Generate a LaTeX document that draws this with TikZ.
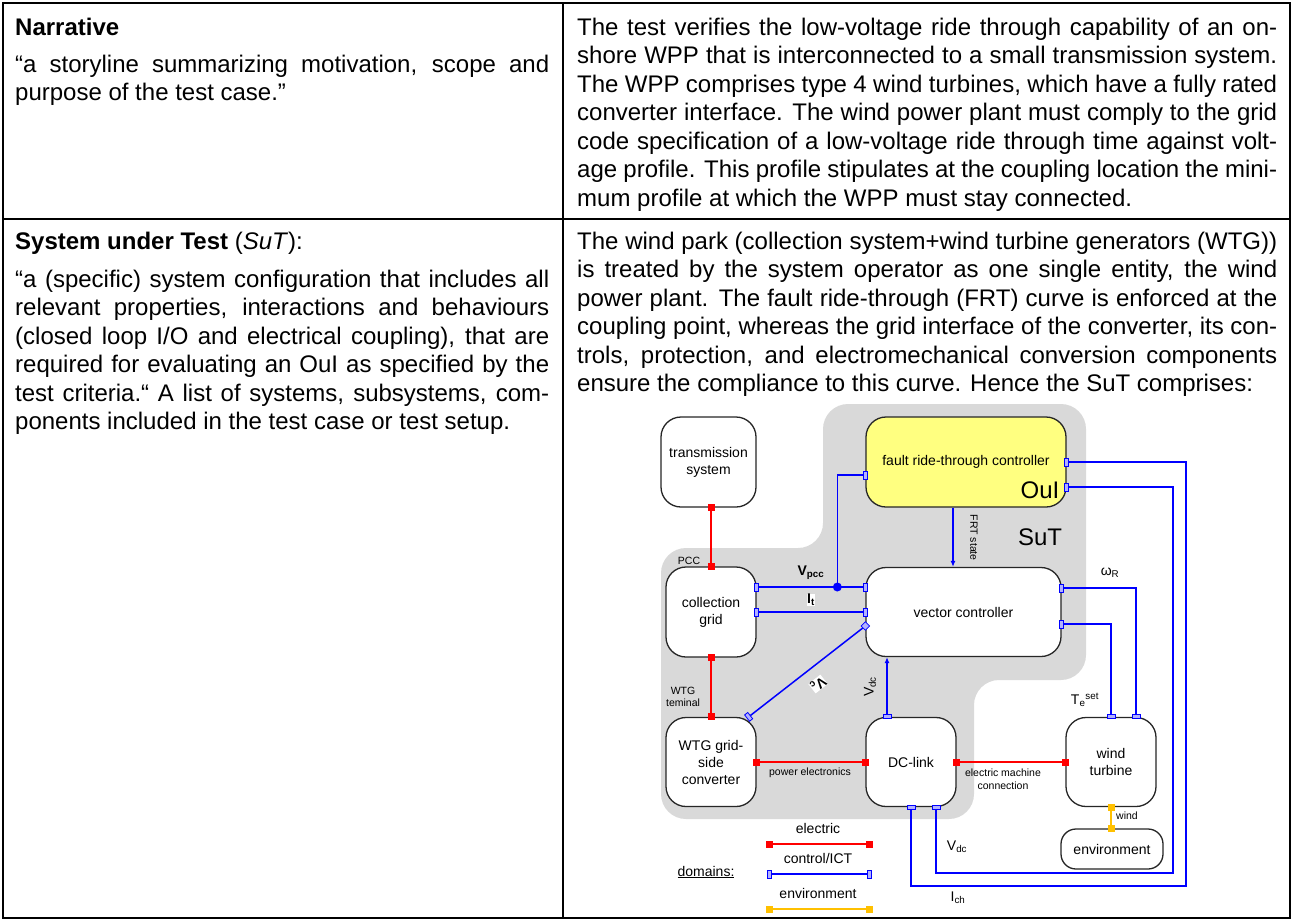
\documentclass[tikz,border=0pt]{standalone}
\usepackage{fontspec}
\setmainfont{Liberation Sans}
\usetikzlibrary{positioning,calc,arrows.meta}

\definecolor{elred}{RGB}{255,0,0}
\definecolor{ictblue}{RGB}{0,0,255}
\definecolor{envorange}{RGB}{255,192,0}
\definecolor{oulyellow}{RGB}{255,255,128}
\definecolor{sutgray}{RGB}{217,217,217}

\newcommand{\bodyfont}{\fontsize{24}{28.5}\selectfont}
\newcommand{\boxfont}{\fontsize{14}{17}\selectfont}
\newcommand{\smallfont}{\fontsize{10.5}{12.5}\selectfont}
\newcommand{\bigfont}{\fontsize{24}{28}\selectfont}

\tikzset{
  block/.style={draw=black!85, line width=1.3pt, fill=white, rounded corners=20pt,
    align=center, inner sep=0pt, font=\boxfont},
  elline/.style={elred, line width=1.6pt},
  ictline/.style={ictblue, line width=1.5pt},
  envline/.style={envorange, line width=2pt},
  elterm/.style={fill=elred, inner sep=0pt, minimum size=7pt},
  envterm/.style={fill=envorange, inner sep=0pt, minimum size=7pt},
  vport/.style={draw=ictblue, fill=ictblue!30, line width=0.8pt, inner sep=0pt,
    minimum width=4pt, minimum height=8pt},
  hport/.style={vport, minimum width=8pt, minimum height=4pt},
  lbl/.style={font=\smallfont, inner sep=0pt, align=center},
  sig/.style={font=\boxfont, inner sep=0.5pt},
  cell/.style={font=\bodyfont, inner sep=0pt, anchor=base west, align=justify,
    execute at begin node={\hyphenpenalty=10000 \exhyphenpenalty=10000 }},
}

\begin{document}
\begin{tikzpicture}[x=1pt,y=-1pt]
\useasboundingbox (0,0) rectangle (1293,921);

% table frame
\draw[line width=2pt] (3,3) rectangle (1290,918);
\draw[line width=2pt] (563,3) -- (563,918);
\draw[line width=2pt] (3,219) -- (1290,219);

% narrative row
\node[cell, text width=534pt] (narhead) at (15,35) {\textbf{Narrative}};
\node[cell, text width=534pt] (narquote) at (15,72) {“a storyline summarizing motivation, scope and\linebreak
purpose of the test case.”};
\node[cell, text width=700pt] (nartext) at (577,35) {The test verifies the low-voltage ride through capability of an on-\linebreak
shore WPP that is interconnected to a small transmission system.\linebreak
The WPP comprises type 4 wind turbines, which have a fully rated\linebreak
converter interface. The wind power plant must comply to the grid\linebreak
code specification of a low-voltage ride through time against volt-\linebreak
age profile. This profile stipulates at the coupling location the mini-\linebreak
mum profile at which the WPP must stay connected.};

% system under test row
\node[cell, text width=534pt] (suthead) at (15,249) {\textbf{System under Test} (\textit{SuT}):};
\node[cell, text width=534pt] (sutquote) at (15,287) {“a (specific) system configuration that includes all\linebreak
relevant properties, interactions and behaviours\linebreak
(closed loop I/O and electrical coupling), that are\linebreak
required for evaluating an OuI as specified by the\linebreak
test criteria.“ A list of systems, subsystems, com-\linebreak
ponents included in the test case or test setup.};
\node[cell, text width=700pt] (suttext) at (577,249) {The wind park (collection system+wind turbine generators (WTG))\linebreak
is treated by the system operator as one single entity, the wind\linebreak
power plant. The fault ride-through (FRT) curve is enforced at the\linebreak
coupling point, whereas the grid interface of the converter, its con-\linebreak
trols, protection, and electromechanical conversion components\linebreak
ensure the compliance to this curve. Hence the SuT comprises:};

% SuT area
\fill[sutgray, rounded corners=25pt] (823,404) -- (1086,404) -- (1086,680) -- (974,680)
  -- (974,819) -- (661,819) -- (661,548) -- (823,548) -- cycle;

% blocks
\node[block, minimum width=95pt, minimum height=90pt] (trans) at (708.5,462) {transmission\\system};
\node[block, minimum width=90pt, minimum height=90pt] (cgrid) at (711,612) {collection\\grid};
\node[block, minimum width=90pt, minimum height=89pt] (wtgc) at (711,762) {WTG grid-\\side\\converter};
\node[block, minimum width=90pt, minimum height=89pt] (dclink) at (911,762) {DC-link};
\node[block, minimum width=90pt, minimum height=89pt] (wturb) at (1111,762) {wind\\turbine};
\node[block, fill=oulyellow, minimum width=200pt, minimum height=90pt] (frtc) at (966,462) {fault ride-through controller};
\node[block, minimum width=195pt, minimum height=89pt] (vc) at (963.5,612) {vector controller};
\node[block, rounded corners=15pt, minimum width=102pt, minimum height=40pt] (env) at (1112,849) {environment};

\node[font=\bigfont, inner sep=0pt] (oullbl) at (1040,490) {OuI};
\node[font=\bigfont, inner sep=0pt] (sutlbl) at (1040,537) {SuT};

% electric couplings
\draw[elline] (cgrid.north |- trans.south) -- (cgrid.north);
\draw[elline] (cgrid.south) -- (wtgc.north);
\draw[elline] (wtgc.east) -- (dclink.west);
\draw[elline] (dclink.east) -- (wturb.west);
\foreach \p in {(cgrid.north |- trans.south),(cgrid.north),(cgrid.south),(wtgc.north),
    (wtgc.east),(dclink.west),(dclink.east),(wturb.west)}
  \node[elterm] at \p {};

% wind
\draw[envline] (wturb.south) -- (wturb.south |- env.north);
\node[envterm] at (wturb.south) {};
\node[envterm] at (wturb.south |- env.north) {};

% control signals
\coordinate (vpccout) at ([yshift=25pt]cgrid.east);
\coordinate (vpccin) at (vpccout -| vc.west);
\coordinate (vpccjn) at ($(vpccin)+(-28,0)$);
\coordinate (frtin) at ([yshift=-13pt]frtc.west);
\coordinate (itin) at (cgrid.east -| vc.west);
\coordinate (vcin) at ([yshift=-14pt]vc.west);
\coordinate (wtgout) at ([xshift=-8pt]wtgc.north east);
\draw[ictline] (vpccout) -- (vpccin);
\draw[ictline] (vpccjn) |- (frtin);
\fill[ictblue] (vpccjn) circle (4.5pt);
\draw[ictline] (cgrid.east) -- (itin);
\draw[ictline] (vcin) -- (wtgout);

\coordinate (frtout) at ([xshift=-13pt]frtc.south);
\draw[ictline, -{Latex[length=6pt,width=5pt]}] (frtout) -- (frtout |- vc.north);
\coordinate (dcup) at ([xshift=-24pt]dclink.north);
\draw[ictline, -{Latex[length=6pt,width=5pt]}] (dcup) -- (dcup |- vc.south);

\coordinate (wrout) at ([yshift=24pt]vc.east);
\coordinate (wrin) at ([xshift=25pt]wturb.north);
\draw[ictline] (wrout) -| (wrin);
\coordinate (teout) at ([yshift=-12pt]vc.east);
\draw[ictline] (teout) -| (wturb.north);

\coordinate (ichturn) at (1186,886);
\draw[ictline] (frtc.east) -| (ichturn) -| (dclink.south);
\coordinate (frtvdc) at ([yshift=-25pt]frtc.east);
\coordinate (vdcturn) at (1173,873);
\coordinate (dcvdc) at ([xshift=25pt]dclink.south);
\draw[ictline] (frtvdc) -| (vdcturn) -| (dcvdc);

\foreach \p in {(vpccout),(vpccin),(frtin),(cgrid.east),(itin),(frtc.east),(frtvdc),(wrout),(teout)}
  \node[vport] at \p {};
\foreach \p in {(dcup),(wrin),(wturb.north),(dclink.south),(dcvdc)}
  \node[hport] at \p {};
\node[vport, rotate=45, minimum width=6pt, minimum height=6pt] at (vcin) {};
\node[vport, rotate=38] at (wtgout) {};

% labels
\node[lbl] (pcc) at (689,561) {PCC};
\node[lbl] (wtgterm) at (683,697) {WTG\\teminal};
\node[lbl] (pelbl) at (810,773) {power electronics};
\node[lbl] (emlbl) at (1003,779) {electric machine\\connection};
\node[lbl] (windlbl) at (1127,816) {wind};
\node[lbl, rotate=-90] (frtlbl) at ($(frtout)+(21,30)$) {FRT state};
\node[sig] (vpcclbl) at (811,573) {\textbf{V\textsubscript{pcc}}};
\node[sig, fill=white] (itlbl) at (811,600) {\textbf{I\textsubscript{t}}};
\node[sig, fill=white, inner sep=0pt, rotate=218] (vclbl) at (818,684) {\textbf{V\textsubscript{c}}};
\node[sig, rotate=90] (vdclbl) at ($(dcup)+(-17,-30)$) {V\textsubscript{dc}};
\node[sig] (omlbl) at (1110,573) {ω\textsubscript{R}};
\node[sig] (telbl) at (1085,700) {T\textsubscript{e}\textsuperscript{set}};
\node[sig] (ichlbl) at (958,898) {I\textsubscript{ch}};
\node[sig] (vdclbl2) at (957,847) {V\textsubscript{dc}};

% legend
\node[sig] (lgel) at (818,828) {electric};
\node[sig] (lgict) at (818,858) {control/ICT};
\node[sig] (lgenv) at (818,893) {environment};
\node[sig] (lgdom) at (706,872) {\underline{domains:}};
\coordinate (lg1a) at (769,844); \coordinate (lg1b) at (869,844);
\coordinate (lg2a) at (769,874); \coordinate (lg2b) at (869,874);
\coordinate (lg3a) at (769,909); \coordinate (lg3b) at (869,909);
\draw[elline] (lg1a) -- (lg1b);
\node[elterm] at (lg1a) {}; \node[elterm] at (lg1b) {};
\draw[ictline] (lg2a) -- (lg2b);
\node[vport] at (lg2a) {}; \node[vport] at (lg2b) {};
\draw[envline] (lg3a) -- (lg3b);
\node[envterm] at (lg3a) {}; \node[envterm] at (lg3b) {};
\end{tikzpicture}
\end{document}
